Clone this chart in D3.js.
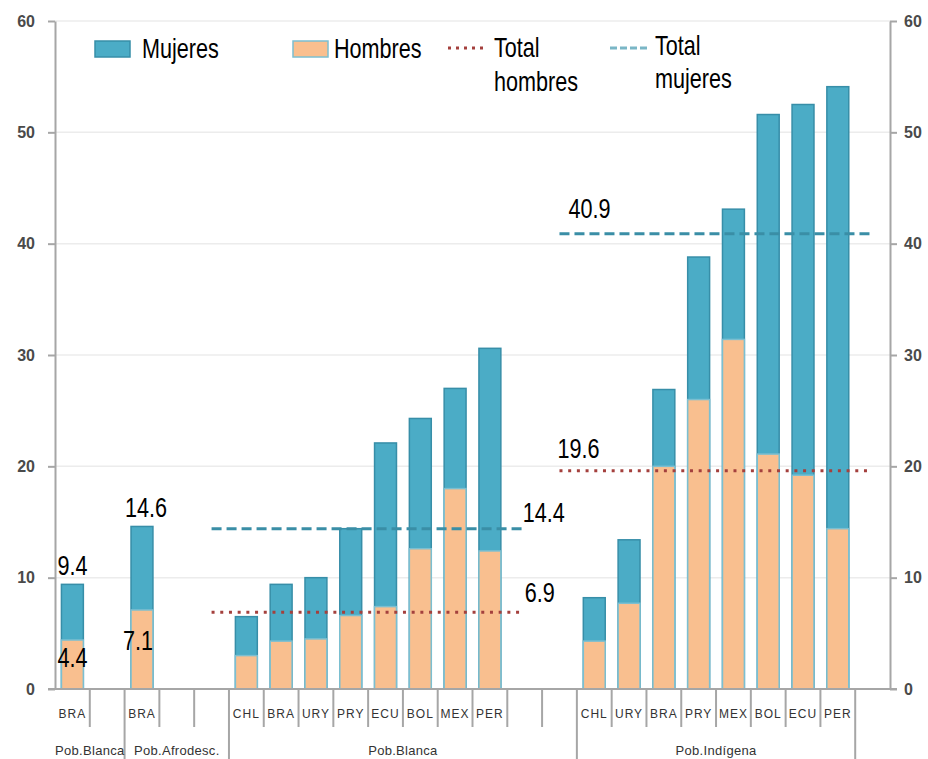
<!DOCTYPE html>
<html>
<head>
<meta charset="utf-8">
<script src="https://cdn.jsdelivr.net/npm/d3@7"></script>
<style>
  body { margin: 0; background: #fff; }
  svg { display: block; }
  .num { font-family: "Liberation Sans", Arial, sans-serif; font-size: 27px; fill: #000; }
  .tick-lbl { font-family: "Liberation Sans", Arial, sans-serif; font-size: 16px; font-weight: bold; fill: #4a4a4a; }
  .cat-lbl { font-family: "Liberation Sans", Arial, sans-serif; font-size: 12px; letter-spacing: 1px; fill: #333; }
  .grp-lbl { font-family: "Liberation Sans", Arial, sans-serif; font-size: 13px; letter-spacing: 0.3px; fill: #333; }
</style>
</head>
<body>
<div id="chart"></div>
<script>
// categories (one slot each, "" = empty slot)
const slots = ["BRA", "", "BRA", "", "", "CHL", "BRA", "URY", "PRY", "ECU", "BOL", "MEX", "PER", "", "",
               "CHL", "URY", "BRA", "PRY", "MEX", "BOL", "ECU", "PER", ""]
const mujeres = [9.4, null, 14.6, null, null, 6.5, 9.4, 10.0, 14.4, 22.1, 24.3, 27.0, 30.6, null, null,
                 8.2, 13.4, 26.9, 38.8, 43.1, 51.6, 52.5, 54.1, null]
const hombres = [4.4, null, 7.1, null, null, 3.0, 4.3, 4.5, 6.6, 7.4, 12.6, 18.0, 12.4, null, null,
                 4.3, 7.7, 20.0, 26.0, 31.4, 21.1, 19.2, 14.4, null]

// groups on the second axis level
const groupNames = ["Pob.Blanca", "Pob.Afrodesc.", "Pob.Blanca", "Pob.Indígena"]
const groupStart = [0, 2, 5, 15]
const groupEnd = [1, 4, 14, 22]

// total lines (slot range they span)
const totalFrom = [4, 14]
const totalTo = [13, 23]
const totalMujeres = [14.4, 40.9]
const totalHombres = [6.9, 19.6]

// value labels on the first two bars
const barLabelSlot = [0, 0, 2, 2]
const barLabelVal = [9.4, 4.4, 14.6, 7.1]

const yTicks = [0, 10, 20, 30, 40, 50, 60]
const legendNames = ["Mujeres", "Hombres", "Total hombres", "Total mujeres"]

const W = 928, H = 759
const pLeft = 55, pRight = 890, pTop = 21, pBottom = 689

const blue = "#4bacc6", blueEdge = "#378ea8"
const orange = "#f9bf8f", orangeEdge = "#7bbfd1"
const dashCol = "#3a8ea6", dotCol = "#a4403d"
const axisCol = "#a6a6a6"

const svg = d3.select("#chart").append("svg")
    .attr("width", W)
    .attr("height", H)

// the big texts in the picture are squeezed horizontally
function bigText(x, y, txt, anchor) {
    return svg.append("text")
        .attr("class", "num")
        .attr("text-anchor", anchor || "start")
        .attr("transform", `translate(${x},${y}) scale(0.8,1)`)
        .text(txt)
}

const y = d3.scaleLinear().domain([0, 60]).range([pBottom, pTop])
const x = d3.scaleBand().domain(d3.range(slots.length)).range([pLeft, pRight]).padding(0)
const bw = x.bandwidth() * 0.63
const cx = i => x(i) + x.bandwidth() / 2

// gridlines
svg.append("g")
    .selectAll("line")
    .data(yTicks.filter(d => d > 0))
    .enter().append("line")
        .attr("x1", pLeft).attr("x2", pRight)
        .attr("y1", d => y(d)).attr("y2", d => y(d))
        .attr("stroke", "#ececec")
        .attr("stroke-width", 1.5)

// left axis
const gl = svg.append("g")
    .attr("transform", `translate(${pLeft},0)`)
    .call(d3.axisLeft(y).tickValues(yTicks).tickSize(7).tickSizeOuter(0).tickPadding(13))
gl.attr("font-family", null).attr("font-size", null)
gl.select(".domain").attr("stroke", axisCol).attr("stroke-width", 2)
gl.selectAll(".tick line").attr("stroke", axisCol).attr("stroke-width", 2)
gl.selectAll(".tick text").attr("class", "tick-lbl").attr("fill", null)

// right axis
const gr = svg.append("g")
    .attr("transform", `translate(${pRight},0)`)
    .call(d3.axisRight(y).tickValues(yTicks).tickSize(7).tickSizeOuter(0).tickPadding(7))
gr.attr("font-family", null).attr("font-size", null)
gr.select(".domain").attr("stroke", axisCol).attr("stroke-width", 2)
gr.selectAll(".tick line").attr("stroke", axisCol).attr("stroke-width", 2)
gr.selectAll(".tick text").attr("class", "tick-lbl").attr("fill", null)

// bars: mujeres behind, hombres in front
const idx = d3.range(slots.length)
svg.append("g")
    .selectAll("rect")
    .data(idx.filter(i => mujeres[i] != null))
    .enter().append("rect")
        .attr("x", i => cx(i) - bw / 2)
        .attr("y", i => y(mujeres[i]))
        .attr("width", bw)
        .attr("height", i => y(0) - y(mujeres[i]))
        .attr("fill", blue)
        .attr("stroke", blueEdge)
        .attr("stroke-width", 1.5)

svg.append("g")
    .selectAll("rect")
    .data(idx.filter(i => hombres[i] != null))
    .enter().append("rect")
        .attr("x", i => cx(i) - bw / 2)
        .attr("y", i => y(hombres[i]))
        .attr("width", bw)
        .attr("height", i => y(0) - y(hombres[i]))
        .attr("fill", orange)
        .attr("stroke", orangeEdge)
        .attr("stroke-width", 1.5)

// total lines
totalFrom.forEach((f, k) => {
    svg.append("line")
        .attr("x1", cx(f)).attr("x2", cx(totalTo[k]))
        .attr("y1", y(totalMujeres[k])).attr("y2", y(totalMujeres[k]))
        .attr("stroke", dashCol)
        .attr("stroke-width", 3)
        .attr("stroke-dasharray", "10,5")
    svg.append("line")
        .attr("x1", cx(f)).attr("x2", cx(totalTo[k]))
        .attr("y1", y(totalHombres[k])).attr("y2", y(totalHombres[k]))
        .attr("stroke", dotCol)
        .attr("stroke-width", 3)
        .attr("stroke-dasharray", "3,5.7")
})

// total labels
bigText(cx(totalTo[0]) - 2, y(totalMujeres[0]) - 7, totalMujeres[0].toFixed(1))
bigText(cx(totalTo[0]), y(totalHombres[0]) - 10, totalHombres[0].toFixed(1))
bigText(cx(totalFrom[1]) + 9, y(totalMujeres[1]) - 16, totalMujeres[1].toFixed(1))
bigText(cx(totalFrom[1]) - 2, y(totalHombres[1]) - 13, totalHombres[1].toFixed(1))

// bar labels
const barLabelDy = [-9, 27, -9, 40]
const barLabelDx = [0, 0, 4, -4]
barLabelVal.forEach((v, k) => {
    bigText(cx(barLabelSlot[k]) + barLabelDx[k], y(v) + barLabelDy[k], v.toFixed(1), "middle")
})

// category axis
svg.append("line")
    .attr("x1", pLeft - 7).attr("x2", pRight + 7)
    .attr("y1", pBottom).attr("y2", pBottom)
    .attr("stroke", axisCol).attr("stroke-width", 2)

const ends = new Set(groupEnd)
svg.append("g")
    .selectAll("line")
    .data(d3.range(slots.length - 1))
    .enter().append("line")
        .attr("x1", i => x(i) + x.bandwidth()).attr("x2", i => x(i) + x.bandwidth())
        .attr("y1", pBottom)
        .attr("y2", i => ends.has(i) ? H : pBottom + 38)
        .attr("stroke", axisCol).attr("stroke-width", 2)

svg.append("g")
    .selectAll("text")
    .data(idx.filter(i => slots[i] !== ""))
    .enter().append("text")
        .attr("class", "cat-lbl")
        .attr("text-anchor", "middle")
        .attr("x", i => cx(i))
        .attr("y", pBottom + 29)
        .text(i => slots[i])

svg.append("g")
    .selectAll("text")
    .data(groupNames)
    .enter().append("text")
        .attr("class", "grp-lbl")
        .attr("text-anchor", "middle")
        .attr("x", (d, k) => (x(groupStart[k]) + x(groupEnd[k]) + x.bandwidth()) / 2)
        .attr("y", H - 4)
        .text(d => d)

// legend
svg.append("rect").attr("x", 95).attr("y", 41).attr("width", 35).attr("height", 16)
    .attr("fill", blue).attr("stroke", blueEdge).attr("stroke-width", 1.5)
bigText(142, 58, legendNames[0])
svg.append("rect").attr("x", 293).attr("y", 41).attr("width", 35).attr("height", 16)
    .attr("fill", orange).attr("stroke", orangeEdge).attr("stroke-width", 1.5)
bigText(334, 58, legendNames[1])
svg.append("line").attr("x1", 448).attr("x2", 486).attr("y1", 48).attr("y2", 48)
    .attr("stroke", dotCol).attr("stroke-width", 3).attr("stroke-dasharray", "3,5")
bigText(494, 57, legendNames[2].split(" ")[0])
bigText(494, 91, legendNames[2].split(" ")[1])
svg.append("line").attr("x1", 610).attr("x2", 647).attr("y1", 48).attr("y2", 48)
    .attr("stroke", "#7ab6c6").attr("stroke-width", 3).attr("stroke-dasharray", "7,3")
bigText(655, 55, legendNames[3].split(" ")[0])
bigText(655, 88, legendNames[3].split(" ")[1])
</script>
</body>
</html>
